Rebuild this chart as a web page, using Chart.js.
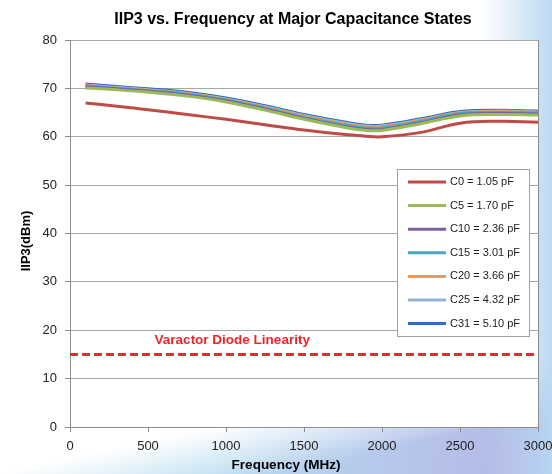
<!DOCTYPE html>
<html>
<head>
<meta charset="utf-8">
<script src="https://cdn.jsdelivr.net/npm/chart.js@4.4.1/dist/chart.umd.min.js"></script>
<style>
  html, body { margin: 0; padding: 0; }
  body {
    width: 552px; height: 474px; overflow: hidden;
    background:
      linear-gradient(to left, rgba(185,215,242,0.95) 0px, rgba(185,215,242,0) 70px),
      linear-gradient(168deg, #ffffff 0%, #ffffff 80%, rgba(255,255,255,0) 90%),
      linear-gradient(100deg, #c4e6f4 0%, #b8dcf0 45%, #b6c3ea 80%, #b2b2e4 100%);
  }
  #wrap { position: relative; width: 552px; height: 474px; }
</style>
</head>
<body>
<div id="wrap"><canvas id="iip3-chart" width="552" height="474"></canvas></div>
<script>
window.onload = function () {

  // frequency points (MHz)
  const freqs = [100, 300, 500, 750, 1000, 1250, 1500, 1750, 1900, 2000, 2250, 2500, 2750, 3000];

  const seriesNames = ['C0 = 1.05 pF', 'C5 = 1.70 pF', 'C10 = 2.36 pF', 'C15 = 3.01 pF',
                       'C20 = 3.66 pF', 'C25 = 4.32 pF', 'C31 = 5.10 pF'];

  const c0  = [67.0, 66.3, 65.6, 64.6, 63.6, 62.5, 61.4, 60.5, 60.1, 60.0, 60.9, 62.8, 63.2, 63.0];
  const c5  = [70.1, 69.7, 69.2, 68.4, 67.2, 65.5, 63.6, 62.0, 61.3, 61.3, 62.7, 64.3, 64.6, 64.5];
  const c10 = [70.3, 69.9, 69.4, 68.6, 67.4, 65.7, 63.8, 62.2, 61.5, 61.5, 62.9, 64.5, 64.8, 64.7];
  const c15 = [70.5, 70.0, 69.5, 68.8, 67.6, 65.9, 64.0, 62.5, 61.8, 61.8, 63.2, 64.8, 65.0, 64.9];
  const c20 = [70.6, 70.1, 69.6, 68.9, 67.7, 66.1, 64.2, 62.7, 62.0, 62.0, 63.4, 64.9, 65.1, 65.0];
  const c25 = [70.7, 70.2, 69.7, 69.0, 67.8, 66.2, 64.4, 62.9, 62.2, 62.2, 63.5, 65.0, 65.3, 65.1];
  const c31 = [70.9, 70.4, 69.9, 69.2, 68.0, 66.4, 64.6, 63.1, 62.4, 62.4, 63.7, 65.2, 65.5, 65.3];

  const seriesValues = [c0, c5, c10, c15, c20, c25, c31];
  const seriesColors = ['#BE4B48', '#9BBB59', '#7D5FA0', '#4AA6C0', '#F79646', '#95B3D7', '#2A6FC0'];

  // varactor diode linearity limit
  const limitFreqs = [0, 3000];
  const limitValues = [15, 15];
  const limitLabel = 'Varactor Diode Linearity';
  const limitLabelAt = [1040, 18];

  const titleText = 'IIP3 vs. Frequency at Major Capacitance States';
  const xTitle = 'Frequency (MHz)';
  const yTitle = 'IIP3(dBm)';

  const FONT = '"Liberation Sans", Arial, sans-serif';

  const datasets = seriesValues.map((vals, i) => ({
    label: seriesNames[i],
    data: freqs.map((f, j) => ({ x: f, y: vals[j] })),
    borderColor: seriesColors[i],
    backgroundColor: seriesColors[i],
    borderWidth: 3,
    pointRadius: 0,
    tension: 0.4,
    fill: false
  }));

  datasets.push({
    label: 'limit',
    data: limitFreqs.map((f, j) => ({ x: f, y: limitValues[j] })),
    borderColor: '#F2242C',
    borderWidth: 3,
    borderDash: [8, 4],
    pointRadius: 0,
    fill: false
  });

  const plotDecor = {
    id: 'plotDecor',
    beforeDraw(chart) {
      const a = chart.chartArea, ctx = chart.ctx;
      ctx.save();
      ctx.fillStyle = '#ffffff';
      ctx.fillRect(a.left, a.top, a.right - a.left, a.bottom - a.top);
      ctx.restore();
    },
    afterDraw(chart) {
      const ctx = chart.ctx;
      const xs = chart.scales.x, ys = chart.scales.y;
      ctx.save();
      ctx.textAlign = 'center';
      ctx.textBaseline = 'middle';

      // titles
      ctx.fillStyle = '#000';
      ctx.font = 'bold 16px ' + FONT;
      ctx.fillText(titleText, 293, 20);
      ctx.font = 'bold 13.5px ' + FONT;
      ctx.fillText(xTitle, 286, 465);
      ctx.save();
      ctx.translate(26, 241);
      ctx.rotate(-Math.PI / 2);
      ctx.font = 'bold 13px ' + FONT;
      ctx.fillText(yTitle, 0, 0);
      ctx.restore();

      // annotation text
      ctx.font = 'bold 13.5px ' + FONT;
      ctx.fillStyle = '#F2242C';
      ctx.fillText(limitLabel, xs.getPixelForValue(limitLabelAt[0]), ys.getPixelForValue(limitLabelAt[1]));

      // legend box
      const bx = 397, by = 169, bw = 132, bh = 167;
      ctx.fillStyle = '#ffffff';
      ctx.fillRect(bx, by, bw, bh);
      ctx.strokeStyle = '#a0a0a0';
      ctx.lineWidth = 1;
      ctx.strokeRect(bx + 0.5, by + 0.5, bw, bh);
      ctx.font = '11px ' + FONT;
      ctx.textAlign = 'left';
      seriesNames.forEach((name, i) => {
        const y = by + 13 + i * 23.6;
        ctx.strokeStyle = seriesColors[i];
        ctx.lineWidth = 3;
        ctx.beginPath();
        ctx.moveTo(408, y);
        ctx.lineTo(446, y);
        ctx.stroke();
        ctx.fillStyle = '#222';
        ctx.fillText(name, 450, y);
      });
      ctx.restore();
    }
  };

  const ctx = document.getElementById('iip3-chart').getContext('2d');
  new Chart(ctx, {
    type: 'line',
    data: { datasets: datasets },
    plugins: [plotDecor],
    options: {
      responsive: false,
      animation: false,
      layout: { padding: { left: 0, right: 14, top: 40, bottom: 0 } },
      plugins: {
        legend: { display: false },
        tooltip: { enabled: false },
        title: { display: false }
      },
      scales: {
        x: {
          type: 'linear',
          min: 0, max: 3000,
          ticks: {
            stepSize: 500,
            color: '#222',
            padding: 7,
            maxRotation: 0,
            callback: (v) => String(v),
            font: { family: FONT, size: 13 }
          },
          grid: {
            drawOnChartArea: true,
            color: (c) => (c.tick && c.tick.value === 3000) ? '#8c8c8c' : 'rgba(0,0,0,0)',
            tickColor: '#8c8c8c',
            tickLength: 5
          },
          border: { color: '#8c8c8c' },
          afterFit(scale) {
            scale.height = 47;
            scale.paddingLeft = 0;
            scale.paddingRight = 0;
          }
        },
        y: {
          min: 0, max: 80,
          ticks: {
            stepSize: 10,
            color: '#222',
            padding: 8,
            font: { family: FONT, size: 13 }
          },
          grid: {
            color: '#a6a6a6',
            tickColor: '#8c8c8c',
            tickLength: 5
          },
          border: { color: '#8c8c8c' },
          afterFit(scale) {
            scale.width = 70;
            scale.paddingTop = 0;
            scale.paddingBottom = 0;
          }
        }
      }
    }
  });
};
</script>
</body>
</html>
